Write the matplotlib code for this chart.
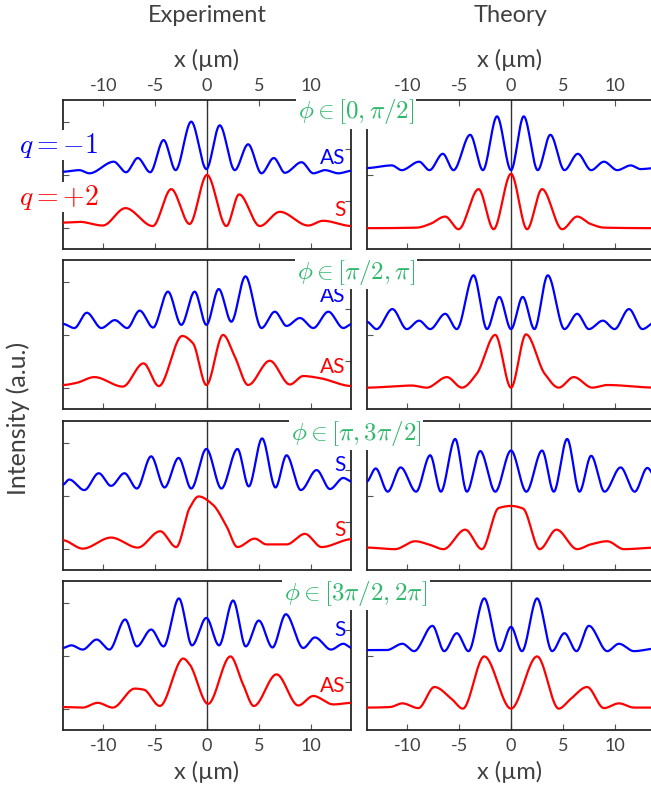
import numpy as np
import matplotlib
matplotlib.use("Agg")
import matplotlib.pyplot as plt

plt.rcParams['font.family'] = ['Lato', 'DejaVu Sans']
plt.rcParams['mathtext.fontset'] = 'cm'
plt.rcParams['axes.unicode_minus'] = False

# ---- data (extrema / key points of each trace) ----
# Experiment, phi in [0, pi/2]
e1_blue_x = [-13.94, -12.32, -11.35, -9.0, -7.81, -6.68, -5.48, -4.19, -3.03, -1.52, -0.06, 1.23, 2.68, 3.97, 5.26, 6.45, 7.52, 9.13, 10.26, 11.39, 12.68, 14.0]
e1_blue_y = [1.06, 1.09, 1.03, 1.25, 1.05, 1.32, 1.05, 1.66, 1.09, 2.01, 1.11, 1.94, 1.09, 1.58, 1.03, 1.32, 1.04, 1.24, 1.03, 1.09, 1.03, 1.08]
e1_red_x = [-13.94, -12.3, -10.06, -7.87, -5.23, -3.45, -1.68, 0.0, 1.87, 3.1, 5.1, 7.03, 9.77, 11.2, 14.0]
e1_red_y = [0.095, 0.11, 0.04, 0.37, 0.03, 0.73, 0.07, 1.0, 0.03, 0.63, 0.03, 0.30, 0.04, 0.13, 0.03]
# Theory, phi in [0, pi/2]
t1_blue_x = [-13.94, -11.5, -10.55, -8.87, -7.87, -6.58, -5.55, -3.94, -2.71, -1.35, 0.0, 1.23, 2.58, 3.8, 5.16, 6.45, 7.74, 8.97, 10.26, 11.55, 12.5, 14.0]
t1_blue_y = [1.13, 1.18, 1.09, 1.25, 1.09, 1.40, 1.09, 1.76, 1.09, 2.11, 1.09, 2.11, 1.09, 1.76, 1.09, 1.40, 1.09, 1.25, 1.09, 1.18, 1.11, 1.13]
t1_red_x = [-13.94, -9.1, -7.8, -6.35, -5.06, -3.13, -1.68, 0.0, 1.55, 3.0, 4.94, 6.39, 7.68, 9.0, 14.0]
t1_red_y = [-0.01, 0.0, 0.07, 0.21, -0.03, 0.73, -0.03, 1.02, -0.03, 0.73, -0.03, 0.21, 0.07, 0.0, -0.01]

# Experiment, phi in [pi/2, pi]
e2_blue_x = [-13.94, -12.8, -11.6, -10.2, -8.9, -7.7, -6.5, -5.2, -3.77, -2.48, -1.19, -0.06, 1.13, 2.35, 3.71, 5.26, 6.55, 7.68, 8.97, 10.26, 11.71, 13.16, 14.0]
e2_blue_y = [1.21, 1.13, 1.42, 1.13, 1.28, 1.13, 1.46, 1.14, 1.82, 1.19, 1.82, 1.19, 1.87, 1.25, 2.11, 1.13, 1.44, 1.17, 1.32, 1.13, 1.44, 1.13, 1.21]
e2_red_x = [-13.94, -12.6, -10.87, -8.13, -6.13, -4.65, -2.39, -1.35, -0.06, 1.55, 2.68, 3.97, 6.06, 8.0, 9.29, 10.9, 14.0]
e2_red_y = [0.05, 0.09, 0.20, 0.02, 0.46, 0.03, 0.98, 0.84, 0.05, 1.0, 0.59, 0.05, 0.51, 0.06, 0.22, 0.18, 0.03]
# Theory, phi in [pi/2, pi]
t2_blue_x = [-13.94, -12.97, -11.45, -10.06, -8.87, -7.8, -6.35, -5.23, -3.61, -2.32, -1.13, 0.0, 1.13, 2.26, 3.55, 5.16, 6.39, 7.52, 8.87, 10.0, 11.39, 12.68, 14.0]
t2_blue_y = [1.25, 1.11, 1.49, 1.11, 1.27, 1.11, 1.40, 1.11, 2.13, 1.11, 1.72, 1.11, 1.72, 1.11, 2.13, 1.11, 1.40, 1.11, 1.27, 1.11, 1.49, 1.11, 1.25]
t2_red_x = [-13.94, -9.58, -8.13, -6.19, -4.74, -3.29, -1.52, 0.0, 1.45, 3.23, 4.61, 6.06, 7.84, 9.29, 14.0]
t2_red_y = [0.0, 0.04, 0.0, 0.20, 0.0, 0.27, 1.0, 0.0, 1.01, 0.27, 0.0, 0.20, 0.0, 0.05, 0.0]

# Experiment, phi in [pi, 3pi/2]
e3_blue_x = [-13.94, -13.3, -11.84, -10.45, -9.26, -7.97, -6.77, -5.39, -4.1, -2.74, -1.52, -0.06, 1.39, 2.94, 4.03, 5.32, 6.61, 7.68, 9.06, 10.58, 11.87, 13.16, 14.0]
e3_blue_y = [1.21, 1.31, 1.11, 1.43, 1.19, 1.43, 1.14, 1.75, 1.16, 1.72, 1.14, 1.89, 1.14, 1.89, 1.18, 2.09, 1.16, 1.77, 1.11, 1.49, 1.13, 1.34, 1.27]
e3_red_x = [-13.94, -12.0, -9.26, -6.68, -4.52, -2.97, -1.68, -0.81, 0.58, 1.87, 2.94, 4.61, 5.74, 7.68, 9.45, 11.06, 14.0]
e3_red_y = [0.16, 0.0, 0.21, 0.02, 0.33, 0.03, 0.77, 0.99, 0.83, 0.43, 0.03, 0.19, 0.08, 0.08, 0.28, 0.03, 0.18]
# Theory, phi in [pi, 3pi/2]
t3_blue_x = [-13.94, -13.06, -11.9, -10.65, -9.16, -7.8, -6.77, -5.39, -4.26, -2.97, -1.52, 0.0, 1.48, 3.0, 4.13, 5.42, 6.61, 7.74, 9.03, 10.58, 11.94, 13.16, 14.0]
t3_blue_y = [1.27, 1.52, 1.08, 1.54, 1.08, 1.77, 1.08, 2.08, 1.08, 1.85, 1.08, 1.86, 1.08, 1.86, 1.08, 2.08, 1.08, 1.76, 1.08, 1.54, 1.08, 1.53, 1.35]
t3_red_x = [-13.94, -11.2, -9.26, -7.8, -6.52, -4.42, -2.81, -1.19, 0.0, 1.16, 2.77, 4.39, 6.39, 7.68, 9.29, 10.9, 14.0]
t3_red_y = [0.02, -0.01, 0.14, 0.07, -0.01, 0.36, -0.01, 0.77, 0.81, 0.76, -0.01, 0.36, -0.01, 0.08, 0.14, -0.01, 0.02]

# Experiment, phi in [3pi/2, 2pi]
e4_blue_x = [-13.94, -13.1, -12.0, -10.65, -9.42, -7.9, -6.77, -5.39, -4.19, -2.71, -1.45, -0.06, 1.16, 2.52, 3.74, 5.0, 6.32, 7.61, 9.29, 10.42, 11.97, 13.16, 14.0]
e4_blue_y = [1.15, 1.2, 1.12, 1.31, 1.12, 1.69, 1.18, 1.5, 1.18, 2.09, 1.2, 1.72, 1.2, 2.05, 1.18, 1.67, 1.16, 1.79, 1.15, 1.35, 1.12, 1.23, 1.15]
e4_red_x = [-13.94, -12.0, -10.55, -9.1, -6.97, -6.1, -4.55, -2.29, -1.68, 0.1, 2.26, 3.48, 4.52, 6.71, 8.81, 10.26, 12.19, 14.0]
e4_red_y = [0.03, 0.02, 0.11, 0.02, 0.38, 0.36, 0.05, 0.95, 0.84, 0.09, 0.99, 0.46, 0.05, 0.65, 0.06, 0.24, 0.08, 0.11]
# Theory, phi in [3pi/2, 2pi]
t4_blue_x = [-13.94, -12.0, -10.48, -9.35, -7.58, -6.45, -5.23, -4.1, -2.58, -1.1, 0.0, 1.06, 2.52, 3.97, 5.16, 6.32, 7.52, 9.29, 10.42, 11.87, 14.0]
t4_blue_y = [1.11, 1.11, 1.23, 1.09, 1.57, 1.09, 1.43, 1.09, 2.09, 1.09, 1.55, 1.09, 2.09, 1.09, 1.43, 1.09, 1.57, 1.09, 1.23, 1.09, 1.14]
t4_red_x = [-13.94, -11.68, -10.48, -8.94, -7.39, -5.71, -4.65, -2.58, 0.0, 2.52, 4.61, 5.74, 7.35, 8.97, 10.42, 11.87, 14.0]
t4_red_y = [0.02, 0.03, 0.1, 0.01, 0.41, 0.18, 0.0, 0.99, 0.0, 0.99, 0.0, 0.18, 0.41, 0.01, 0.1, 0.02, 0.02]

exp_curves = [(e1_blue_x, e1_blue_y, e1_red_x, e1_red_y),
              (e2_blue_x, e2_blue_y, e2_red_x, e2_red_y),
              (e3_blue_x, e3_blue_y, e3_red_x, e3_red_y),
              (e4_blue_x, e4_blue_y, e4_red_x, e4_red_y)]
th_curves = [(t1_blue_x, t1_blue_y, t1_red_x, t1_red_y),
             (t2_blue_x, t2_blue_y, t2_red_x, t2_red_y),
             (t3_blue_x, t3_blue_y, t3_red_x, t3_red_y),
             (t4_blue_x, t4_blue_y, t4_red_x, t4_red_y)]

blue_labels = ['AS', 'AS', 'S', 'S']
red_labels = ['S', 'AS', 'S', 'AS']
blue_label_y = [1.32, 1.73, 1.58, 1.50]
red_label_y = [0.34, 0.40, 0.36, 0.43]
phase_labels = [r'$\phi \in [0, \pi/2]$', r'$\phi \in [\pi/2, \pi]$',
                r'$\phi \in [\pi, 3\pi/2]$', r'$\phi \in [3\pi/2, 2\pi]$']
xticks = [-10, -5, 0, 5, 10]


def smooth(x, y, n=600):
    # monotone cubic (pchip) drawing through the read points
    x = np.asarray(x, float)
    y = np.asarray(y, float)
    h = np.diff(x)
    d = np.diff(y) / h
    m = np.zeros_like(y)
    for k in range(1, len(x) - 1):
        if d[k - 1] * d[k] > 0:
            w1 = 2 * h[k] + h[k - 1]
            w2 = h[k] + 2 * h[k - 1]
            m[k] = (w1 + w2) / (w1 / d[k - 1] + w2 / d[k])
    xs = np.linspace(x[0], x[-1], n)
    i = np.clip(np.searchsorted(x, xs) - 1, 0, len(x) - 2)
    t = (xs - x[i]) / h[i]
    h00 = 2 * t**3 - 3 * t**2 + 1
    h10 = t**3 - 2 * t**2 + t
    h01 = -2 * t**3 + 3 * t**2
    h11 = t**3 - t**2
    ys = h00 * y[i] + h10 * h[i] * m[i] + h01 * y[i + 1] + h11 * h[i] * m[i + 1]
    return xs, ys


W, H = 651, 787
fig = plt.figure(figsize=(W / 100, H / 100), dpi=100)

tops = [100, 260, 421, 581]
ph = 149
lefts = [63, 367]
pw = 288
txt_col = '#404040'
spine_col = '#262626'
green = '#2eb86a'

for row in range(4):
    for col in range(2):
        ax = fig.add_axes([lefts[col] / W, 1 - (tops[row] + ph) / H, pw / W, ph / H])
        bx, by, rx, ry = (exp_curves if col == 0 else th_curves)[row]
        sx, sy = smooth(bx, by)
        ax.plot(sx, sy, color='#0000ff', lw=1.6, zorder=3)
        sx, sy = smooth(rx, ry)
        ax.plot(sx, sy, color='#ff0000', lw=1.6, zorder=3)
        ax.axvline(0, color='#333333', lw=1.0, zorder=2)
        ax.set_xlim(-13.9, 13.9)
        ax.set_ylim(-0.405, 2.42)
        for s in ax.spines.values():
            s.set_color(spine_col)
            s.set_linewidth(1.3)
        ax.set_xticks(xticks)
        ax.tick_params(axis='both', direction='in', length=4, width=0.8,
                       color='#555555', labelsize=13, labelcolor=txt_col)
        if row == 0:
            ax.tick_params(axis='x', top=True, bottom=True, labeltop=True, labelbottom=False, pad=4)
        elif row == 3:
            ax.tick_params(axis='x', labelbottom=True, pad=6)
        else:
            ax.tick_params(axis='x', labelbottom=False)
        if col == 0:
            ax.set_yticks([0, 1, 2])
            ax.set_yticklabels([])
            sec = ax.secondary_yaxis('right')
            sec.set_yticks([0.5, 1.5])
            sec.tick_params(direction='in', length=4, width=0.8, color='#555555', labelright=False)
            sec.spines['right'].set_visible(False)
            ax.text(13.4, blue_label_y[row], blue_labels[row], color='#0000ff',
                    fontsize=15, ha='right', va='center', zorder=4)
            ax.text(13.4, red_label_y[row], red_labels[row], color='#ff0000',
                    fontsize=15, ha='right', va='center', zorder=4)
        else:
            ax.set_yticks([1])
            ax.set_yticklabels([])

    # phase label between the columns, on a white patch
    fig.text(356 / W, 1 - (tops[row] + 12) / H, phase_labels[row], color=green,
             fontsize=18, ha='center', va='center', zorder=10,
             bbox=dict(facecolor='white', edgecolor='none', pad=1.5))

# column titles and x-axis labels
for cx, name in zip([207, 510], ['Experiment', 'Theory']):
    fig.text(cx / W, 1 - 15 / H, name, fontsize=17, color=txt_col, ha='center', va='center')
    fig.text(cx / W, 1 - 60 / H, 'x (µm)', fontsize=17, color=txt_col, ha='center', va='center')
    fig.text(cx / W, 1 - 772 / H, 'x (µm)', fontsize=17, color=txt_col, ha='center', va='center')

fig.text(59 / W, 1 - 145 / H, r'$q=-1$', color='#0000ff', fontsize=20,
         ha='center', va='center', zorder=10,
         bbox=dict(facecolor='white', edgecolor='none', pad=0.5))
fig.text(59 / W, 1 - 197 / H, r'$q=+2$', color='#ff0000', fontsize=20,
         ha='center', va='center', zorder=10,
         bbox=dict(facecolor='white', edgecolor='none', pad=0.5))
fig.text(18 / W, 1 - 418 / H, 'Intensity (a.u.)', rotation=90, fontsize=18,
         color=txt_col, ha='center', va='center')

fig.savefig('out.png', dpi=100)
